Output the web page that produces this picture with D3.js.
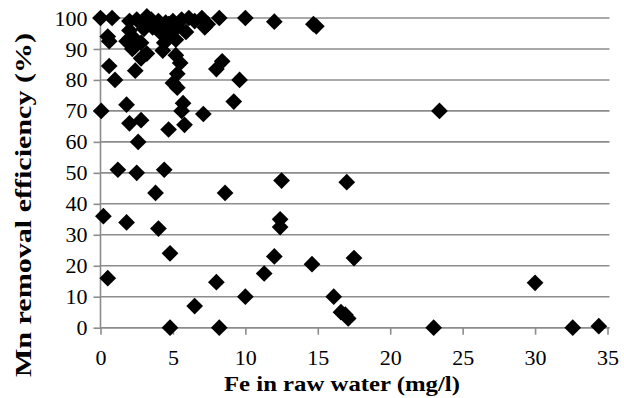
<!DOCTYPE html>
<html>
<head>
<meta charset="utf-8">
<script src="https://cdn.jsdelivr.net/npm/d3@7"></script>
</head>
<body style="margin:0;background:#ffffff">
<div id="wrap"></div>
<script>
// Fe concentration in raw water (mg/l)
const feValues = [
  0.0, 0.8, 2.0, 2.5, 3.0, 3.2, 3.5, 4.0, 4.5, 4.7, 5.0, 5.3, 5.6, 6.1, 6.5, 7.0, 7.2, 7.4, 8.2, 10.0, 12.0, 14.7, 14.9,
  0.5, 0.6, 1.8, 2.0, 2.2, 2.4, 2.2, 2.8, 3.0, 3.2, 2.8, 4.2, 4.3, 4.4, 4.8, 5.2, 5.9, 5.2, 3.6,
  0.6, 1.0, 2.4, 5.5, 5.3, 5.0, 5.3, 8.0, 8.4, 9.6,
  0.05, 1.8, 5.7, 5.6, 7.1, 9.2, 23.4,
  2.0, 2.8, 4.7, 5.8, 2.6,
  1.2, 2.5, 4.4, 3.8, 8.6, 12.5, 17.0,
  0.2, 1.8, 4.0, 12.4, 12.4,
  4.8, 12.0, 14.6, 17.5, 11.3, 0.5, 8.0, 30.0,
  10.0, 16.1, 6.5, 16.6, 16.9, 17.1, 4.8, 8.2, 23.0, 32.6, 34.4
];

// Mn removal efficiency (%) for each sample, same order as feValues
const mnRemoval = [
  100, 100, 99, 99.5, 99, 100.5, 99.5, 99, 98.5, 98, 99, 97, 99.5, 100, 99, 100, 97, 98, 100, 100, 98.8, 98, 97.3,
  94, 92.5, 92.5, 96, 94, 91, 90, 92, 96.5, 88.5, 87, 95, 89.5, 92, 94.5, 93, 95.5, 88, 97,
  84.5, 80, 83, 85.5, 82, 79, 77.5, 83.5, 86, 80,
  70, 72, 72.5, 70, 69, 73, 70,
  66, 67, 64, 65.5, 60,
  51, 50, 51, 43.5, 43.5, 47.5, 47,
  36, 34, 32, 35, 32.5,
  24, 23, 20.5, 22.5, 17.5, 16, 14.7, 14.5,
  10, 10, 7, 5, 4.2, 3, 0, 0, 0, 0, 0.5
];

const xTicks = [0, 5, 10, 15, 20, 25, 30, 35];
const yTicks = [0, 10, 20, 30, 40, 50, 60, 70, 80, 90, 100];

const xTitle = "Fe in raw water  (mg/l)";
const yTitle = "Mn removal  efficiency (%)";

const serif = '"Liberation Serif"';
const gridColor = "#8c8c8c";

const svg = d3.select("#wrap").append("svg")
  .attr("width", 624).attr("height", 398)
  .style("display", "block");

const x = d3.scaleLinear().domain([0, 35]).range([100.5, 607.5]);
const y = d3.scaleLinear().domain([0, 100]).range([327.7, 18]);

// horizontal gridlines at every y tick
svg.append("g")
  .selectAll("line")
  .data(yTicks)
  .join("line")
  .attr("x1", x(0)).attr("x2", x(35) + 2)
  .attr("y1", d => y(d)).attr("y2", d => y(d))
  .attr("stroke", gridColor)
  .attr("stroke-width", 1.6);

function styleAxis(g) {
  g.attr("font-family", null).attr("font-size", null);
  g.selectAll(".tick line").attr("stroke", gridColor).attr("stroke-width", 1.6);
  g.selectAll(".tick text")
    .style("font-family", serif)
    .style("font-size", "22px")
    .style("fill", "#000");
}

// y axis
const yAxis = svg.append("g")
  .attr("transform", `translate(${x(0)},0)`)
  .call(d3.axisLeft(y).tickValues(yTicks).tickSize(7).tickPadding(6).tickFormat(d3.format("d")));
yAxis.select(".domain").attr("stroke", gridColor).attr("stroke-width", 1.6)
  .attr("d", `M0,${y(100)}V${y(0)}`);
styleAxis(yAxis);

// x axis
const xAxis = svg.append("g")
  .attr("transform", `translate(0,${y(0)})`)
  .call(d3.axisBottom(x).tickValues(xTicks).tickSize(7).tickPadding(15).tickFormat(d3.format("d")));
xAxis.select(".domain").attr("stroke", gridColor).attr("stroke-width", 1.6)
  .attr("d", `M${x(0)},0H${x(35) + 2}`);
styleAxis(xAxis);

// axis titles
svg.append("text")
  .attr("x", 342).attr("y", 391)
  .attr("text-anchor", "middle")
  .style("font-family", serif).style("font-size", "22px").style("font-weight", "bold")
  .attr("textLength", 236).attr("lengthAdjust", "spacingAndGlyphs")
  .text(xTitle);

svg.append("text")
  .attr("transform", "translate(31,205) rotate(-90)")
  .attr("text-anchor", "middle")
  .style("font-family", serif).style("font-size", "24px").style("font-weight", "bold")
  .attr("textLength", 344).attr("lengthAdjust", "spacingAndGlyphs")
  .text(yTitle);

// diamond markers, one per sample
const diamond = d3.symbol().type(d3.symbolSquare).size(140);
svg.append("g")
  .selectAll("path")
  .data(d3.range(feValues.length))
  .join("path")
  .attr("d", diamond)
  .attr("transform", i => `translate(${x(feValues[i])},${y(mnRemoval[i])}) rotate(45)`)
  .attr("fill", "#000");
</script>
</body>
</html>
